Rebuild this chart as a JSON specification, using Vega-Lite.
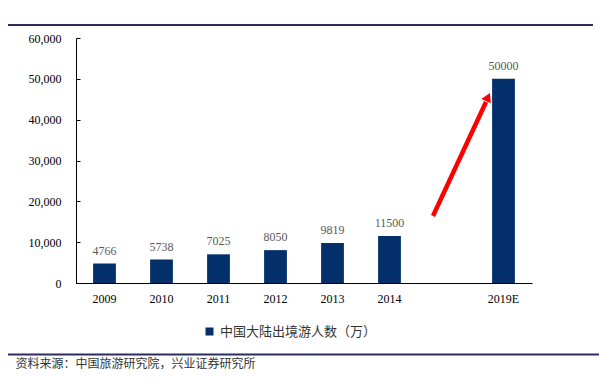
{
  "$schema": "https://vega.github.io/schema/vega-lite/v6.json",
  "width": 456,
  "height": 245,
  "autosize": {"type": "none"},
  "padding": {"left": 76, "top": 38, "right": 67, "bottom": 95},
  "background": "white",
  "config": {"view": {"stroke": null}},
  "datasets": {
    "bars": [
      {"year": "2009", "value": 4766, "series": "中国大陆出境游人数（万）"},
      {"year": "2010", "value": 5738, "series": "中国大陆出境游人数（万）"},
      {"year": "2011", "value": 7025, "series": "中国大陆出境游人数（万）"},
      {"year": "2012", "value": 8050, "series": "中国大陆出境游人数（万）"},
      {"year": "2013", "value": 9819, "series": "中国大陆出境游人数（万）"},
      {"year": "2014", "value": 11500, "series": "中国大陆出境游人数（万）"},
      {"year": "2019E", "value": 50000, "series": "中国大陆出境游人数（万）"}
    ],
    "rules": [
      {"x1": -1.193, "x2": 9.07, "y": 63184},
      {"x1": -1.193, "x2": 9.175, "y": -17510}
    ],
    "arrow": [
      {"x1": 6.263, "x2": 7.193, "y1": 16408, "y2": 44327}
    ],
    "head": [
      {"x": 7.228, "y": 45551}
    ]
  },
  "layer": [
    {
      "data": {"name": "bars"},
      "mark": {"type": "bar"},
      "encoding": {
        "x": {
          "field": "year",
          "type": "nominal",
          "sort": null,
          "scale": {
            "domain": ["2009", "2010", "2011", "2012", "2013", "2014", " ", "2019E"],
            "paddingInner": 0.6,
            "paddingOuter": 0.3
          },
          "axis": {
            "title": "资料来源：中国旅游研究院，兴业证券研究所",
            "titleX": -61,
            "titleY": 80,
            "titleAlign": "left",
            "titleAnchor": "start",
            "titleBaseline": "middle",
            "titleFont": "Noto Sans CJK SC",
            "titleFontSize": 12,
            "titleFontWeight": "normal",
            "titleColor": "#333333",
            "labelAngle": 0,
            "labelFont": "Liberation Serif",
            "labelFontSize": 12,
            "labelColor": "#000000",
            "labelPadding": 10,
            "ticks": false,
            "tickSize": 0,
            "domainColor": "#000000",
            "grid": false
          }
        },
        "y": {
          "field": "value",
          "type": "quantitative",
          "scale": {"domain": [0, 60000], "nice": false},
          "axis": {
            "title": null,
            "values": [0, 10000, 20000, 30000, 40000, 50000, 60000],
            "format": ",d",
            "labelFont": "Liberation Serif",
            "labelFontSize": 12,
            "labelColor": "#000000",
            "tickSize": -4,
            "labelPadding": 19,
            "tickColor": "#000000",
            "domainColor": "#000000",
            "grid": false
          }
        },
        "color": {
          "field": "series",
          "type": "nominal",
          "scale": {"range": ["#03306A"]},
          "legend": {
            "title": null,
            "orient": "none",
            "legendX": 127,
            "legendY": 287,
            "symbolType": "square",
            "symbolSize": 64,
            "labelFont": "Noto Sans CJK SC",
            "labelFontSize": 13,
            "labelColor": "#333333"
          }
        }
      }
    },
    {
      "data": {"name": "bars"},
      "mark": {"type": "text", "baseline": "bottom", "dy": -6, "font": "Liberation Serif", "fontSize": 12, "color": "#595959"},
      "encoding": {
        "x": {"field": "year", "type": "nominal", "sort": null, "scale": {"domain": ["2009", "2010", "2011", "2012", "2013", "2014", " ", "2019E"], "paddingInner": 0.6, "paddingOuter": 0.3}, "axis": null},
        "y": {"field": "value", "type": "quantitative"},
        "text": {"field": "value", "type": "quantitative", "format": "d"}
      }
    },
    {
      "data": {"name": "arrow"},
      "mark": {"type": "rule", "strokeWidth": 4.5, "color": "#FF0000"},
      "encoding": {
        "x": {"field": "x1", "type": "quantitative", "scale": {"domain": [0, 8], "nice": false, "zero": false}, "axis": null},
        "x2": {"field": "x2"},
        "y": {"field": "y1", "type": "quantitative"},
        "y2": {"field": "y2"}
      }
    },
    {
      "data": {"name": "head"},
      "mark": {"type": "point", "shape": "triangle-up", "filled": true, "size": 110, "angle": 25, "color": "#FF0000", "opacity": 1},
      "encoding": {
        "x": {"field": "x", "type": "quantitative", "scale": {"domain": [0, 8], "nice": false, "zero": false}, "axis": null},
        "y": {"field": "y", "type": "quantitative"}
      }
    },
    {
      "data": {"name": "rules"},
      "mark": {"type": "rule", "strokeWidth": 2, "color": "#2B2D5E"},
      "encoding": {
        "x": {"field": "x1", "type": "quantitative", "scale": {"domain": [0, 8], "nice": false, "zero": false}, "axis": null},
        "x2": {"field": "x2"},
        "y": {"field": "y", "type": "quantitative"}
      }
    }
  ],
  "resolve": {"scale": {"x": "independent"}}
}
